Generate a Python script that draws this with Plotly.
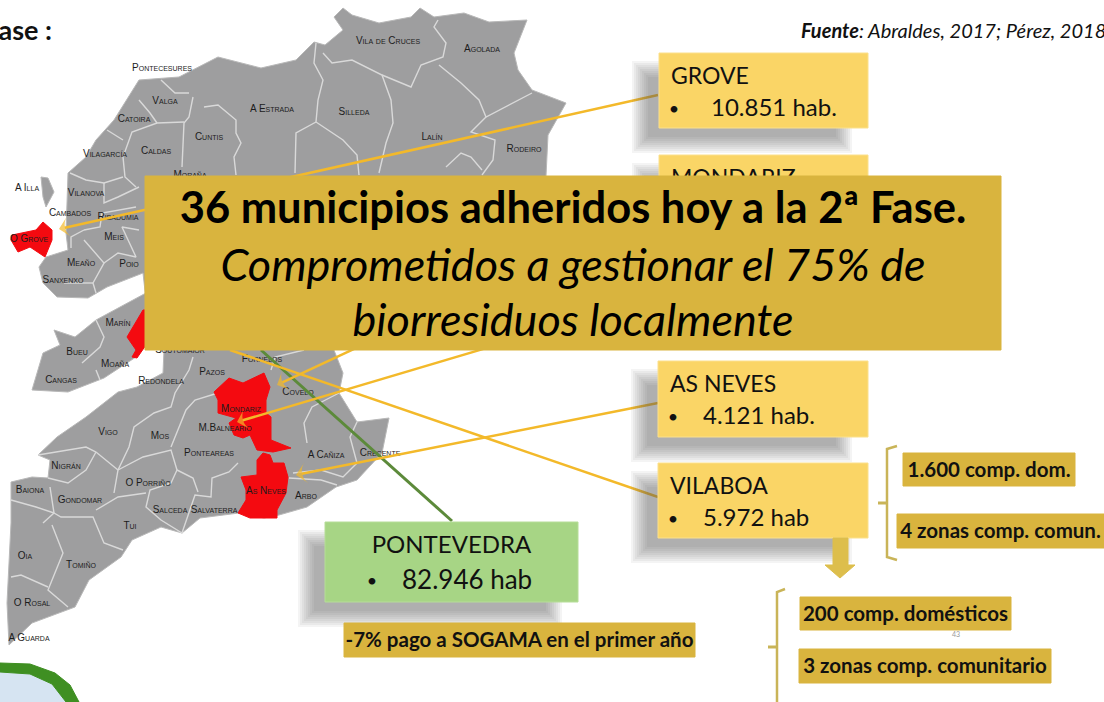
import plotly.graph_objects as go

# ---------- map geometry (in picture pixels) ----------
MAP_NORTH = [(334,17),(343,8),(352,15),(379,23),(411,17),(420,8),(434,17),(464,13),(489,22),(527,20),(514,53),(518,70),(532,90),(566,103),(548,135),(546,176),(546,300),(146,300),(143,273),(107,287),(88,298),(57,297),(43,283),(39,267),(46,257),(68,250),(66,233),(68,173),(86,157),(96,140),(114,120),(139,80),(179,77),(193,70),(218,57),(261,68),(296,60),(314,42),(325,45),(343,30)]
MAP_MORRAZO = [(146,293),(96,320),(75,337),(54,330),(60,345),(43,353),(32,390),(68,392),(104,378),(136,357),(146,345)]
MAP_SOUTH = [(164,340),(330,340),(343,373),(339,393),(357,422),(389,418),(382,453),(357,480),(336,487),(307,507),(279,515),(264,518),(239,513),(200,518),(182,533),(161,527),(132,540),(121,557),(89,580),(75,607),(32,623),(9,645),(7,603),(11,523),(11,482),(32,477),(48,478),(50,460),(38,455),(57,437),(86,417),(118,392),(137,387),(163,373),(164,350)]
MAP_ILLA = [(41,177),(48,178),(54,192),(46,207),(43,197)]
RED_GROVE = [(11,240),(12,235),(36,230),(43,222),(52,230),(52,240),(45,257),(30,247),(18,252)]
RED_MARIN = [(143,310),(127,337),(136,350),(132,357),(137,358),(146,345),(146,310)]
RED_MONDARIZ = [(214,392),(229,378),(243,383),(264,373),(270,387),(266,400),(266,413),(271,417),(271,440),(291,448),(273,452),(257,450),(250,435),(243,438),(234,435),(229,423),(236,418),(218,413),(218,400)]
RED_NEVES = [(263,453),(270,455),(273,463),(284,463),(288,477),(286,493),(277,510),(277,518),(250,518),(238,513),(246,500),(246,490),(241,477),(257,475),(257,460)]

BORDERS = [
 [(316,43),(314,63),(323,80),(318,100),(316,122),(343,140),(357,155),(359,175)],
 [(323,53),(332,63),(352,60),(382,75),(391,100),(393,123),(386,143),(379,173)],
 [(382,75),(411,87),(421,65),(443,57),(446,43),(434,27),(438,20)],
 [(439,65),(461,83),(479,100),(486,117),(532,93)],
 [(486,117),(471,132),(495,140),(493,160),(482,175)],
 [(446,167),(461,153),(471,157),(482,170)],
 [(316,122),(296,133),(295,173)],
 [(193,97),(189,117),(184,123),(182,167)],
 [(204,107),(218,105),(236,120),(236,133),(241,143),(234,157),(236,175)],
 [(184,122),(157,123),(132,132),(123,157),(125,177),(136,187)],
 [(161,80),(175,93),(189,93)],
 [(139,100),(150,113),(157,123)],
 [(107,130),(123,140)],
 [(123,177),(104,183),(86,180),(70,173)],
 [(104,183),(104,203),(118,197),(139,187)],
 [(84,230),(71,237),(71,248)],
 [(84,230),(100,227),(102,213),(136,207)],
 [(84,240),(104,263),(93,283),(96,293)],
 [(93,283),(64,283)],
 [(139,230),(122,227),(136,257),(118,253),(104,263)],
 [(96,320),(104,337),(100,347),(82,363)],
 [(96,370),(100,380)],
 [(193,357),(189,370),(175,393),(171,407),(154,413),(134,427),(129,447),(118,470),(114,493)],
 [(38,455),(86,447),(96,452),(118,470)],
 [(96,452),(86,470),(68,483),(48,478)],
 [(118,470),(143,457),(171,450),(177,470),(171,483),(150,490),(146,507),(161,520),(182,533),(189,513),(195,495),(211,497),(212,478),(229,472),(238,463)],
 [(177,470),(193,478),(198,492)],
 [(171,447),(186,410),(195,400),(218,393)],
 [(50,487),(54,513),(43,523)],
 [(54,513),(61,517),(93,517),(104,543),(123,550)],
 [(96,510),(118,497),(146,493)],
 [(52,525),(63,553),(48,590),(68,607)],
 [(11,577),(21,575),(48,587)],
 [(11,500),(36,507),(54,513)],
 [(307,443),(304,423),(312,407),(339,393)],
 [(293,473),(321,470),(343,477),(357,463),(350,437),(357,422)],
 [(289,478),(321,480),(337,485)],
 [(271,370),(275,357),(304,350)],
]

TOWN_NAMES = ["Pontecesures","Valga","Catoira","Caldas","Vilagarcía","Cuntis","A Estrada","Silleda","Lalín","Rodeiro","Vila de Cruces","Agolada","A Illa","Vilanova","Cambados","Ribadumia","O Grove","Meis","Meaño","Poio","Sanxenxo","Marín","Bueu","Moaña","Cangas","Redondela","Soutomaior","Pazos","Ponteareas","Covelo","Mondariz","M.Balneario","A Cañiza","Crecente","As Neves","Arbo","Salceda","Salvaterra","Tui","O Porriño","Gondomar","Nigrán","Vigo","Mos","Baiona","Oia","Tomiño","O Rosal","A Guarda","Fornelos","Moraña","Portas"]
TOWN_X = [162,165,134,156,105,209,272,354,432,524,388,482,27,86,70,118,29,114,81,129,63,118,77,115,61,161,180,212,209,298,241,225,326,380,266,306,170,214,130,148,80,66,108,160,30,25,81,32,29,262,190,160]
TOWN_Y = [68,101,119,151,154,137,109,112,137,149,41,49,188,193,213,217,239,237,263,264,280,323,352,364,380,381,350,372,453,392,409,428,455,453,491,496,510,510,526,483,500,466,432,436,490,556,565,603,638,359,175,188]

# arrows: start point, end point
ARROWS_ORANGE = [((658,95),(59,229)),((658,207),(277,385)),((658,297),(237,422)),((658,403),(296,475))]
VILABOA_LINE = [(658,497),(230,350)]
PONTEVEDRA_LINE = [(452,521),(261,350)]

# boxes: x0,y0,x1,y1, title, figures
YELLOW_BOXES = [(659,53,868,128,"GROVE","10.851 hab."),(659,155,868,240,"MONDARIZ",""),(658,361,868,437,"AS NEVES","4.121 hab."),(658,463,868,538,"VILABOA","5.972 hab")]
FIG_X = [711,711,703,703]
GREEN_BOX = (325,522,578,602,"PONTEVEDRA","82.946 hab")
STRIPS = [(344,623,695,657,"-7% pago a SOGAMA en el primer año"),(903,453,1075,486,"1.600 comp. dom."),(897,514,1104,548,"4 zonas comp. comun."),(800,597,1011,630,"200 comp. domésticos"),(799,649,1051,683,"3 zonas comp. comunitario")]
BANNER = (145,176,1001,350)
BANNER_LINES = [("<b>36 municipios adheridos hoy a la 2ª Fase.</b>",212,43.5),("<i>Comprometidos a gestionar el 75% de</i>",270,45),("<i>biorresiduos localmente</i>",325,45)]
BRACKETS = [[(897,446),(887,449),(887,557),(897,560)],[(785,589),(777,592),(777,702)]]
BRACKET_TICKS = [[(878,503),(887,503)],[(768,647),(777,647)]]
DOWN_ARROW = [(833,538),(848,538),(848,565),(855,565),(840,578),(825,565),(833,565)]
LOGO_ARC = [(0,663),(30,664),(55,673),(70,685),(79,702),(66,702),(52,684),(30,674),(0,672)]
LOGO_SKY = [(0,672),(30,674),(52,684),(66,702),(0,702)]

MAP_GREY = "#9E9E9F"; RED = "#F40A10"; BORDER = "#D9D9D9"
YELLOW = "#FAD566"; GOLD = "#D9B43E"; GREEN = "#A7D585"; ORANGE = "#F3B92A"; OLIVE = "#C9B458"
FONT = "Lato"

fig = go.Figure()

def poly(pts, color, line=None):
    xs = [p[0] for p in pts]; ys = [p[1] for p in pts]
    fig.add_trace(go.Scatter(x=xs+xs[:1], y=ys+ys[:1], mode="lines", fill="toself", fillcolor=color,
                             line=dict(color=line or color, width=1), hoverinfo="skip"))

def path(pts, color, width):
    fig.add_trace(go.Scatter(x=[p[0] for p in pts], y=[p[1] for p in pts], mode="lines",
                             line=dict(color=color, width=width), hoverinfo="skip"))

def text(x, y, s, size, color="#111111", pos="middle center", family=FONT, variant=None):
    f = dict(size=size, color=color, family=family)
    if variant: f["variant"] = variant
    fig.add_trace(go.Scatter(x=[x], y=[y], mode="text", text=[s], textposition=pos, textfont=f, hoverinfo="skip"))

def rect(x0, y0, x1, y1, color, line=None):
    poly([(x0,y0),(x1,y0),(x1,y1),(x0,y1)], color, line)

def shadow(x0, y0, x1, y1):
    for g in range(9, -9, -2):
        rect(x0-18-g, y0+17-g, x1-25+g, y1+16+g, "rgba(85,85,85,0.065)", "rgba(0,0,0,0)")

# map
for p in (MAP_NORTH, MAP_MORRAZO, MAP_SOUTH, MAP_ILLA):
    poly(p, MAP_GREY, "#B8B8B8")
for b in BORDERS:
    path(b, BORDER, 1.4)
for p in (RED_GROVE, RED_MARIN, RED_MONDARIZ, RED_NEVES):
    poly(p, RED)
fig.add_trace(go.Scatter(x=TOWN_X, y=TOWN_Y, mode="text", text=TOWN_NAMES,
                         textfont=dict(size=10, color="#1c1c1c", family="Liberation Sans", variant="small-caps"),
                         hoverinfo="skip"))

# logo corner
poly(LOGO_SKY, "#D6E4F2"); poly(LOGO_ARC, "#3F8F22")

# arrows
path(PONTEVEDRA_LINE, "#5C8A3A", 3)
path(VILABOA_LINE, ORANGE, 2.5)
for a, b in ARROWS_ORANGE:
    fig.add_trace(go.Scatter(x=[a[0], b[0]], y=[a[1], b[1]], mode="lines+markers",
                             line=dict(color=ORANGE, width=2.5),
                             marker=dict(symbol="arrow-wide", angleref="previous", size=[0, 15], color=ORANGE,
                                         line=dict(color=ORANGE, width=0)),
                             hoverinfo="skip"))

# boxes
for (x0,y0,x1,y1,t,v), fx in zip(YELLOW_BOXES, FIG_X):
    shadow(x0,y0,x1,y1)
for (x0,y0,x1,y1,t,v), fx in zip(YELLOW_BOXES, FIG_X):
    rect(x0,y0,x1,y1,YELLOW,"#FBE08C")
    text(x0+12, y0+25, t, 23, pos="middle right")
    if v:
        text(x0+15, y0+57, "•", 18, pos="middle center")
        text(fx, y0+57, v, 24, pos="middle right")
x0,y0,x1,y1,t,v = GREEN_BOX
shadow(x0,y0,x1,y1)
rect(x0,y0,x1,y1,GREEN,"#B6DD98")
text((x0+x1)/2, y0+25, t, 24)
text(x0+47, y0+60, "•", 18)
text(x0+77, y0+60, v, 26, pos="middle right")

for x0,y0,x1,y1,s in STRIPS:
    rect(x0,y0,x1,y1,GOLD)
    text((x0+x1)/2, (y0+y1)/2+2, f"<b>{s}</b>", 20.5)

for b in BRACKETS: path(b, OLIVE, 2.5)
for b in BRACKET_TICKS: path(b, OLIVE, 3)
poly(DOWN_ARROW, "#DDBE4C")

# banner on top of everything it hides
rect(BANNER[0], BANNER[1], BANNER[2], BANNER[3], GOLD)
for s, y, size in BANNER_LINES:
    text(573, y, s, size, color="#000000")

# header texts and page number
text(801, 33, "<b><i>Fuente</i></b><i>: Abraldes, 2017; Pérez, 2018</i>", 20, pos="middle right")
text(52, 33, "<b>Fase :</b>", 27, pos="middle left")
text(956, 635, "43", 7, color="#999999")

fig.update_layout(width=1104, height=702, margin=dict(l=0,r=0,t=0,b=0), showlegend=False,
                  paper_bgcolor="#FFFFFF", plot_bgcolor="#FFFFFF",
                  xaxis=dict(range=[0,1104], visible=False, fixedrange=True),
                  yaxis=dict(range=[702,0], visible=False, fixedrange=True))
fig.write_html("out.html", config=dict(displayModeBar=False),
               post_script="document.body.style.margin='0';document.body.style.overflow='hidden';")
